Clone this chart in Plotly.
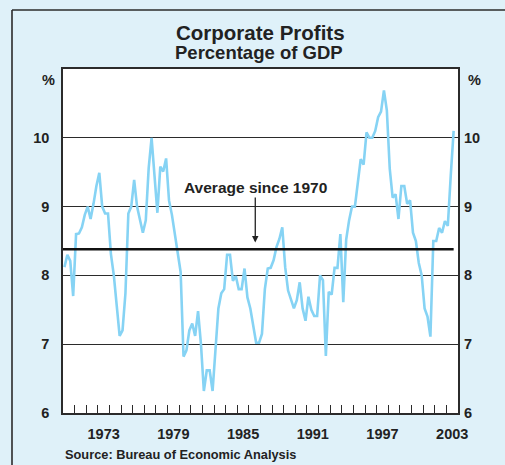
import plotly.graph_objects as go

# ---- data (quarterly, from 1970 Q1) ----
START_YEAR = 1970
profits_pct_gdp = [
    8.12, 8.30, 8.21, 7.70,   # 1970
    8.60, 8.61, 8.70, 8.88,   # 1971
    9.00, 8.82, 9.04, 9.30,   # 1972
    9.49, 9.00, 8.90, 8.90,   # 1973
    8.31, 8.00, 7.56, 7.12,   # 1974
    7.20, 7.74, 8.90, 9.00,   # 1975
    9.39, 9.00, 8.81, 8.62,   # 1976
    8.80, 9.56, 10.00, 9.45,  # 1977
    8.91, 9.58, 9.51, 9.70,   # 1978
    9.09, 8.88, 8.60, 8.38,   # 1979
    8.05, 6.82, 6.91, 7.20,   # 1980
    7.30, 7.12, 7.48, 7.00,   # 1981
    6.32, 6.62, 6.62, 6.32,   # 1982
    6.98, 7.52, 7.74, 7.80,   # 1983
    8.30, 8.30, 7.92, 7.99,   # 1984
    7.80, 7.80, 8.10, 7.68,   # 1985
    7.52, 7.25, 7.02, 7.02,   # 1986
    7.15, 7.80, 8.10, 8.11,   # 1987
    8.22, 8.41, 8.53, 8.70,   # 1988
    8.12, 7.78, 7.64, 7.52,   # 1989
    7.64, 7.90, 7.52, 7.34,   # 1990
    7.69, 7.50, 7.41, 7.41,   # 1991
    8.00, 7.93, 6.83, 7.76,   # 1992
    7.72, 8.11, 8.11, 8.60,   # 1993
    7.61, 8.52, 8.80, 9.00,   # 1994
    9.00, 9.32, 9.69, 9.61,   # 1995
    10.08, 10.00, 10.00, 10.10,  # 1996
    10.30, 10.38, 10.69, 10.40,  # 1997
    9.55, 9.13, 9.18, 8.82,   # 1998
    9.30, 9.30, 9.04, 9.09,   # 1999
    8.62, 8.50, 8.18, 8.00,   # 2000
    7.52, 7.40, 7.11, 8.50,   # 2001
    8.50, 8.69, 8.62, 8.79,   # 2002
    8.72, 9.45, 10.10,        # 2003
]
AVERAGE_SINCE_1970 = 8.38
Y_TICKS = [6, 7, 8, 9, 10]
X_LABEL_YEARS = [1973, 1979, 1985, 1991, 1997, 2003]
X_RANGE = [1970, 2004]

# quarter mid-points as decimal years
quarters = [START_YEAR + (i + 0.5) / 4 for i in range(len(profits_pct_gdp))]

FONT = "Liberation Sans, Arial, Helvetica, sans-serif"
DARK = "#2b2b2b"
BLUE = "#86d3f4"
BG = "#dff1f9"

fig = go.Figure()
fig.add_trace(go.Scatter(
    x=quarters, y=profits_pct_gdp, mode="lines",
    line=dict(color=BLUE, width=2.6), showlegend=False, hoverinfo="skip"))
fig.add_trace(go.Scatter(
    x=[X_RANGE[0], quarters[-1]], y=[AVERAGE_SINCE_1970, AVERAGE_SINCE_1970],
    mode="lines", line=dict(color="#111111", width=2.6),
    showlegend=False, hoverinfo="skip"))
# invisible trace to carry the right-hand axis
fig.add_trace(go.Scatter(x=[X_RANGE[0]], y=[6], yaxis="y2", mode="markers",
                         marker=dict(opacity=0), showlegend=False, hoverinfo="skip"))

tickfont = dict(family=FONT, size=14.5, color="#222", weight="bold")

fig.update_layout(
    width=505, height=465,
    margin=dict(l=63, r=47, t=69, b=52),
    paper_bgcolor=BG, plot_bgcolor="white",
    xaxis=dict(
        range=X_RANGE, tickmode="array",
        tickvals=[y + 0.5 for y in X_LABEL_YEARS],
        ticktext=[str(y) for y in X_LABEL_YEARS],
        ticks="", showgrid=False, zeroline=False,
        showline=True, mirror=True, linecolor=DARK, linewidth=1.6,
        tickfont=tickfont, ticklabelstandoff=7,
        minor=dict(tickmode="array", tickvals=list(range(X_RANGE[0] + 1, X_RANGE[1])),
                   ticks="inside", ticklen=8, tickwidth=1.2, tickcolor=DARK,
                   showgrid=False),
    ),
    yaxis=dict(
        range=[6, 11], tickmode="array", tickvals=Y_TICKS,
        ticks="", showgrid=True, gridcolor=DARK, gridwidth=1.2, zeroline=False,
        showline=True, mirror=True, linecolor=DARK, linewidth=1.6,
        tickfont=tickfont, ticklabelstandoff=9,
    ),
    yaxis2=dict(
        range=[6, 11], tickmode="array", tickvals=Y_TICKS, overlaying="y",
        side="right", ticks="", showgrid=False, zeroline=False, showline=False,
        tickfont=tickfont, ticklabelstandoff=5,
    ),
)

def px_to_paper_x(px):
    return (px - 63) / 395.0

def px_to_paper_y(py):
    return (465 - 52 - py) / 344.0

annots = [
    dict(text="Corporate Profits", x=px_to_paper_x(260), y=px_to_paper_y(32),
         font=dict(family=FONT, size=20.5, color="#222", weight="bold")),
    dict(text="Percentage of GDP", x=px_to_paper_x(259), y=px_to_paper_y(53),
         font=dict(family=FONT, size=18.5, color="#222", weight="bold")),
    dict(text="%", x=px_to_paper_x(48), y=px_to_paper_y(80),
         font=dict(family=FONT, size=14.5, color="#222", weight="bold")),
    dict(text="%", x=px_to_paper_x(474), y=px_to_paper_y(80),
         font=dict(family=FONT, size=14.5, color="#222", weight="bold")),
    dict(text="Source: Bureau of Economic Analysis", x=0, y=px_to_paper_y(454),
         xanchor="left",
         font=dict(family=FONT, size=12.8, color="#222", weight="bold")),
]
for a in annots:
    a.update(xref="paper", yref="paper", showarrow=False,
             xanchor=a.get("xanchor", "center"), yanchor="middle")
    fig.add_annotation(**a)

fig.add_annotation(
    text="Average since 1970", x=1986.55, y=8.48, xref="x", yref="y",
    ax=0, ay=-55, axref="pixel", ayref="pixel",
    showarrow=True, arrowhead=2, arrowsize=1, arrowwidth=1.3, arrowcolor="#222",
    font=dict(family=FONT, size=15.5, color="#222", weight="bold"))

# outer panel frame (left and top edges)
fig.add_shape(type="line", xref="paper", yref="paper",
              x0=px_to_paper_x(12), x1=px_to_paper_x(12),
              y0=px_to_paper_y(10), y1=px_to_paper_y(470),
              line=dict(color=DARK, width=1.6))
fig.add_shape(type="line", xref="paper", yref="paper",
              x0=px_to_paper_x(12), x1=px_to_paper_x(510),
              y0=px_to_paper_y(10), y1=px_to_paper_y(10),
              line=dict(color=DARK, width=1.6))

fig.write_html("out.html",
               config={"displayModeBar": False},
               post_script="document.body.style.margin='0';"
                           "document.body.style.background='" + BG + "';")
